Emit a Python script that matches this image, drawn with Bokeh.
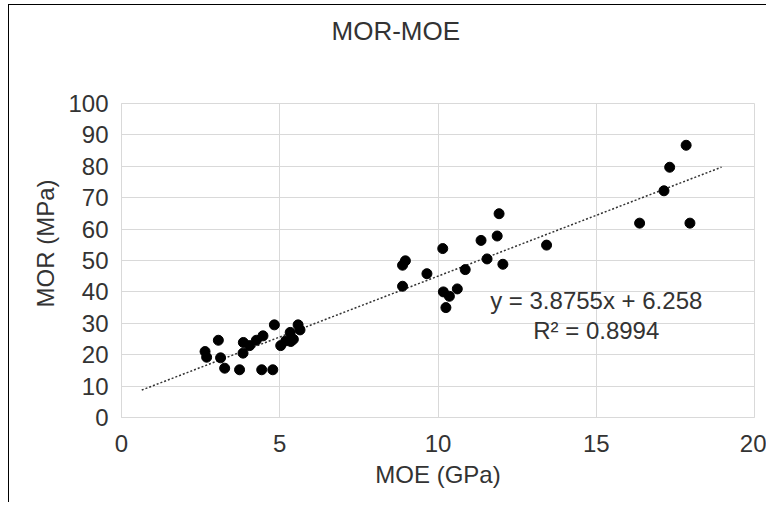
from bokeh.plotting import figure
from bokeh.models import Label, FixedTicker, Range1d, Title
from bokeh.embed import file_html
from bokeh.resources import INLINE

# --- data ---
moe = [2.64, 2.69, 3.06, 3.13, 3.26, 3.73, 3.84, 3.85, 4.05, 4.26, 4.47, 4.43, 4.78,
       4.83, 5.03, 5.19, 5.35, 5.43, 5.33, 5.58, 5.64,
       8.88, 8.97, 8.88, 9.65, 10.15, 10.17, 10.25, 10.36, 10.61, 10.86, 11.36, 11.55,
       11.87, 11.93, 12.05, 13.43,
       16.37, 17.14, 17.32, 17.84, 17.96]
mor = [21.0, 19.2, 24.6, 19.0, 15.7, 15.2, 20.5, 23.9, 22.9, 24.6, 26.0, 15.2, 15.2,
       29.5, 22.9, 24.4, 24.2, 24.9, 27.1, 29.5, 27.9,
       48.5, 49.9, 41.8, 45.8, 53.8, 40.0, 35.0, 38.6, 40.95, 47.1, 56.4, 50.5,
       57.8, 64.9, 48.8, 54.9,
       61.9, 72.2, 79.7, 86.7, 61.9]
slope = 3.8755
intercept = 6.258
r_squared = 0.8994
trend_backward = 2
trend_forward = 1
x_ticks = [0, 5, 10, 15, 20]
y_ticks = [0, 10, 20, 30, 40, 50, 60, 70, 80, 90, 100]
title_text = "MOR-MOE"
x_label = "MOE (GPa)"
y_label = "MOR (MPa)"

FONT = "Liberation Sans"
TXT = "#333333"
GRID = "#d9d9d9"
FS = "24px"

p = figure(width=758, height=498, output_backend="svg", toolbar_location=None,
           x_range=Range1d(0, 20), y_range=Range1d(0, 100),
           min_border_left=112, min_border_right=13, min_border_top=98,
           min_border_bottom=86)
p.styles = {"margin-left": "8px", "margin-top": "4px",
            "border-left": "1px solid black", "border-top": "1px solid black"}
p.outline_line_color = GRID
p.background_fill_color = "white"
p.border_fill_color = "white"

for ax, ticks in ((p.xaxis, x_ticks), (p.yaxis, y_ticks)):
    ax.ticker = FixedTicker(ticks=ticks)
    ax.axis_line_color = GRID
    ax.major_tick_line_color = None
    ax.minor_tick_line_color = None
    ax.major_label_text_font = FONT
    ax.major_label_text_font_size = FS
    ax.major_label_text_color = TXT
p.xaxis.major_label_standoff = 11
p.yaxis.major_label_standoff = 7

p.xaxis.axis_label = x_label
p.xaxis.axis_label_text_font = FONT
p.xaxis.axis_label_text_font_size = FS
p.xaxis.axis_label_text_font_style = "normal"
p.xaxis.axis_label_text_color = TXT
p.xaxis.axis_label_standoff = 6

p.xgrid.ticker = FixedTicker(ticks=x_ticks)
p.ygrid.ticker = FixedTicker(ticks=y_ticks)
p.grid.grid_line_color = GRID
p.grid.grid_line_width = 1

# trendline (Excel linear trendline, forecast backward/forward)
x0 = min(moe) - trend_backward
x1 = max(moe) + trend_forward
p.line([x0, x1], [slope * x0 + intercept, slope * x1 + intercept],
       line_color="#333333", line_width=1.5, line_dash="2 2")

p.scatter(moe, mor, size=10, fill_color="black", line_color="black")

# spacer panel (nearest the frame) then the chart title above it
p.add_layout(Title(text=" ", text_font_size="1px", standoff=55), "above")
p.add_layout(Title(text=title_text, align="left", offset=210, standoff=0,
                   text_font=FONT, text_font_size="26px", text_font_style="normal",
                   text_color=TXT), "above")
p.add_layout(Title(text=y_label, align="left", offset=110, standoff=14,
                   text_font=FONT, text_font_size=FS, text_font_style="normal",
                   text_color=TXT), "left")

p.add_layout(Label(x=15.0, y=37.3, text=f"y = {slope}x + {intercept}", text_align="center",
                   text_baseline="middle", text_font=FONT, text_font_size=FS,
                   text_color=TXT))
p.add_layout(Label(x=15.0, y=27.8, text=f"R\u00b2 = {r_squared}", text_align="center",
                   text_baseline="middle", text_font=FONT, text_font_size=FS,
                   text_color=TXT))

open("out.html", "w").write(file_html(p, INLINE))
